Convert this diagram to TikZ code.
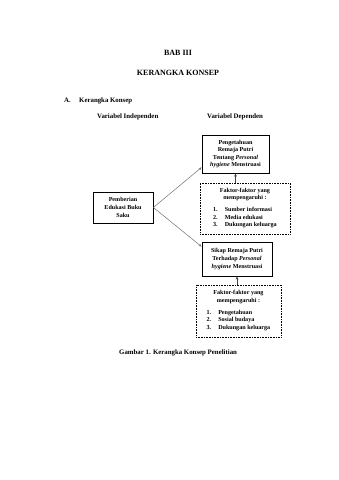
\documentclass[tikz,border=0pt]{standalone}
\usepackage{fontspec}
\setmainfont{Liberation Serif}
\usetikzlibrary{arrows.meta}
\begin{document}
\begin{tikzpicture}[x=1pt,y=-1pt,
  title/.style={font=\fontsize{8}{9.6}\selectfont\bfseries, inner sep=0, anchor=center},
  body/.style={font=\fontsize{6.84}{8.2}\selectfont\bfseries, inner sep=0},
  solidbox/.style={draw, line width=0.7pt, align=center, inner sep=0,
    font=\fontsize{6.1}{7.6}\selectfont\bfseries},
  dotbox/.style={draw, densely dotted, line width=0.6pt, align=center, inner sep=0,
    font=\fontsize{6.1}{7.6}\selectfont\bfseries},
  garrow/.style={-{Stealth[length=3.2pt,width=2.6pt]}, line width=0.5pt, draw=black!55},
  varrow/.style={-{Stealth[length=3.2pt,width=2.6pt]}, line width=0.5pt, draw=black!75},
  ]
\useasboundingbox[fill=white] (0,0) rectangle (339,480);

\node[title] (bab) at (178,53) {BAB III};
\node[title] (kk) at (178,73) {KERANGKA KONSEP};
\node[body, anchor=base west] (a) at (64,102) {A.};
\node[body, anchor=base west] (ak) at (79,102) {Kerangka Konsep};
\node[body, anchor=base west] (vi) at (97,118) {Variabel Independen};
\node[body, anchor=base west] (vd) at (207,118) {Variabel Dependen};

\node[solidbox, minimum width=67, minimum height=38] (peng) at (235.5,154)
  {Pengetahuan\\Remaja Putri\\Tentang {\itshape Personal}\\{\itshape hygiene} Menstruasi};
\node[dotbox, minimum width=90, minimum height=51] (d1) at (245,208.5)
  {Faktor-faktor yang\\mempengaruhi :\\[4pt]
   \begin{tabular}{@{}l@{\hspace{7pt}}l@{}}1.&Sumber informasi\\2.&Media edukasi\\3.&Dukungan keluarga\end{tabular}};
\node[solidbox, minimum width=60, minimum height=31] (pemb) at (123,207.5)
  {Pemberian\\Edukasi Buku\\Saku};
\node[solidbox, minimum width=70, minimum height=34] (sikap) at (237,259)
  {Sikap Remaja Putri\\Terhadap {\itshape Personal}\\{\itshape hygiene} Menstruasi};
\node[dotbox, minimum width=85, minimum height=52] (d2) at (238.5,311)
  {Faktor-faktor yang\\mempengaruhi :\\[4pt]
   \begin{tabular}{@{}l@{\hspace{7pt}}l@{}}1.&Pengetahuan\\2.&Sosial budaya\\3.&Dukungan keluarga\end{tabular}};

\draw[garrow] (pemb.east) -- ([yshift=6pt]peng.south west);
\draw[garrow] (pemb.east) -- ([yshift=-5pt]sikap.north west);
\draw[varrow] (d1.north -| peng.south) -- (peng.south);
\draw[varrow] (d2.north -| sikap.south) -- (sikap.south);

\node[body, anchor=base west] (cap) at (119,354) {Gambar 1. Kerangka Konsep Penelitian};
\end{tikzpicture}
\end{document}
